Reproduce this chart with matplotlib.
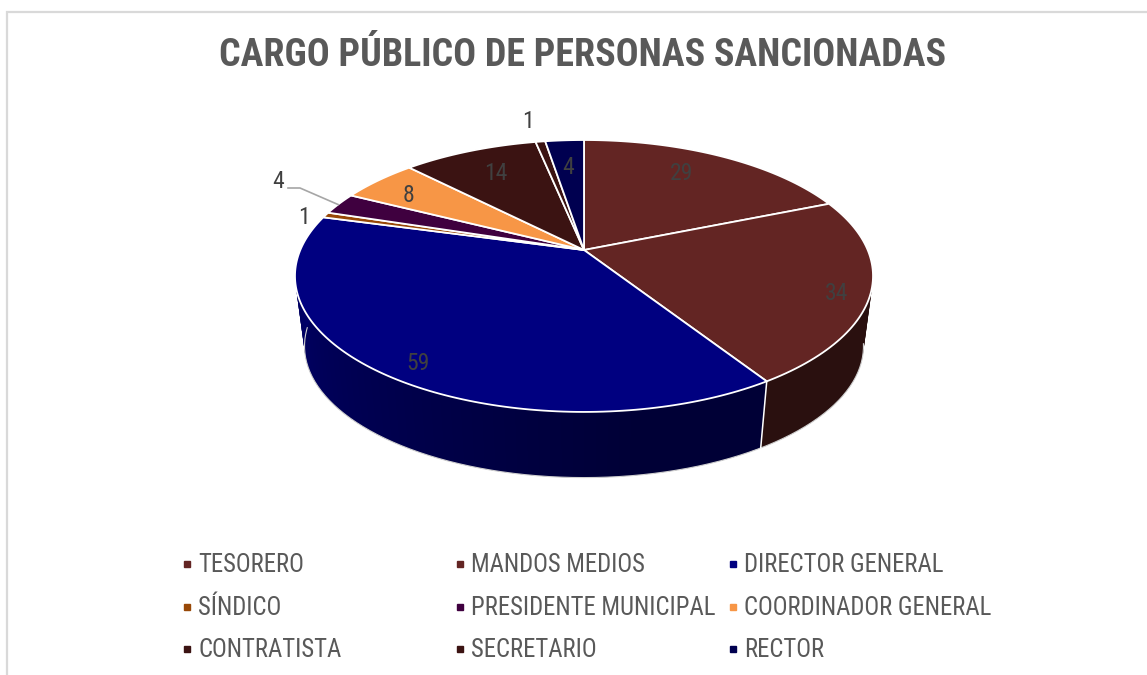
import numpy as np
import matplotlib
matplotlib.use("Agg")
import matplotlib.pyplot as plt
from matplotlib.transforms import Transform
from matplotlib.path import Path
from matplotlib import font_manager as fm

# ---- data ----
title = "CARGO PÚBLICO DE PERSONAS SANCIONADAS"
categories = ["TESORERO", "MANDOS MEDIOS", "DIRECTOR GENERAL", "SÍNDICO",
              "PRESIDENTE MUNICIPAL", "COORDINADOR GENERAL",
              "CONTRATISTA", "SECRETARIO", "RECTOR"]
values = [29, 34, 59, 1, 4, 8, 14, 1, 4]

# ---- styles / layout ----
colors = ["#632523", "#632523", "#000080", "#984807", "#3F003F", "#F79646",
          "#3B1312", "#3B1312", "#000050"]
label_xy = [(682, 174), (837, 293), (418, 363), (304, 217), (278, 182),
            (408, 196), (496, 173), (528, 121), (568, 168)]
legend_x = [187, 460, 733]
legend_y = [565, 608, 650]
W, H = 1147, 675
CX, CY, A, B, K = 584.0, 250.0, 283.7, 131.0, 0.191   # projection of the unit pie
DROP, SHRINK = 71.0, 0.967                            # pie thickness

avail = {f.name for f in fm.fontManager.ttflist}
FONT = [n for n in ["Liberation Sans Narrow", "Roboto Condensed", "Liberation Sans"] if n in avail][:1]
FONT += ["DejaVu Sans"]
plt.rcParams["font.family"] = FONT


def project(u, v):
    w = 1 + K * v
    return CX + A * u / w, CY - B * v / w


class PieProjection(Transform):
    input_dims = output_dims = 2
    is_affine = False
    has_inverse = False

    def transform_non_affine(self, xy):
        xy = np.asarray(xy, float)
        x, y = project(xy[:, 0], xy[:, 1])
        return np.column_stack([x, y])

    def transform_path_non_affine(self, path):
        # flatten the wedge's curves at a fine scale, then project the polygon
        big = Path(path.vertices * 2000.0, path.codes)
        poly = big.to_polygons(closed_only=True)[0] / 2000.0
        return Path(self.transform_non_affine(poly), closed=True)


fig = plt.figure(figsize=(W / 100, H / 100), dpi=100, facecolor="white")
ax = fig.add_axes([0, 0, 1, 1])

# outer chart border (right and bottom are cropped off)
ax.plot([6.5, 6.5, W], [H, 11.5, 11.5], color="#D9D9D9", lw=1.6, zorder=1, solid_joinstyle="miter")


def lower(theta):
    x, y = project(np.sin(theta), np.cos(theta))
    return CX + SHRINK * (x - CX), CY + SHRINK * (y - CY) + DROP


def upper(theta):
    return project(np.sin(theta), np.cos(theta))


# side wall, drawn from the values (clockwise from 12 o'clock)
edges = np.cumsum([0] + values) / sum(values) * 2 * np.pi
for i, col in enumerate(colors):
    n = max(2, int((edges[i + 1] - edges[i]) * 30))
    th = np.linspace(edges[i], edges[i + 1], n + 1)
    rgb = np.array(matplotlib.colors.to_rgb(col))
    for j, (a0, a1) in enumerate(zip(th[:-1], th[1:])):
        amid = 0.5 * (a0 + a1)
        shade = 0.42 + 0.40 * np.clip((amid - np.pi * 0.95) / (np.pi * 0.55), 0, 1)
        if i < 2:
            shade = 0.42
        a_end = th[min(j + 2, n)]      # overlap the next strip to hide seams
        ends = np.array([a0, a_end])
        xa = [*upper(ends)[0], *lower(ends[::-1])[0]]
        ya = [*upper(ends)[1], *lower(ends[::-1])[1]]
        ax.fill(xa, ya, facecolor=tuple(rgb * shade), edgecolor="none", zorder=2)

# silhouette of the bottom rim and divider between the visible walls
rim = np.linspace(edges[0], edges[-1], 361)
xb, yb = lower(rim)
vis = (rim > np.radians(99)) & (rim < np.radians(268))
ax.plot(xb[vis], yb[vis], color="#D0D0D0", lw=0.8, zorder=3)
for e in edges[1:-1]:
    if np.radians(99) < e < np.radians(268):
        xu, yu = upper(e)
        xl, yl = lower(e)
        ax.plot([xu, xl], [yu, yl], color="white", lw=1.1, zorder=3)

# top surface
wedges, _ = ax.pie(values, colors=colors, startangle=90, counterclock=False,
                   wedgeprops=dict(edgecolor="white", linewidth=1.3, zorder=4))
proj = PieProjection() + ax.transData
for wd in wedges:
    wd.set_transform(proj)
    wd.set_zorder(4)

ax.set_aspect("auto")
ax.set_xlim(0, W)
ax.set_ylim(H, 0)
ax.axis("off")

# data labels
for v, (x, y) in zip(values, label_xy):
    ax.text(x, y, str(v), fontsize=17, color="#404040", ha="center", va="center", zorder=6)
ax.plot([288, 300, 338], [188, 188, 204.5], color="#A6A6A6", lw=1.2, zorder=5)

# title
ax.text(582.5, 55, title, fontsize=27.4, fontweight="bold", color="#595959",
        ha="center", va="center", zorder=6)

# legend
for i, (name, col) in enumerate(zip(categories, colors)):
    r, c = divmod(i, 3)
    ax.plot([legend_x[c]], [legend_y[r] - 1], marker="s", ms=5, color=col, ls="none", zorder=6)
    ax.text(legend_x[c] + 11, legend_y[r], name, fontsize=17.8, color="#595959",
            ha="left", va="center", zorder=6)

fig.savefig("out.png", dpi=100, facecolor="white")
